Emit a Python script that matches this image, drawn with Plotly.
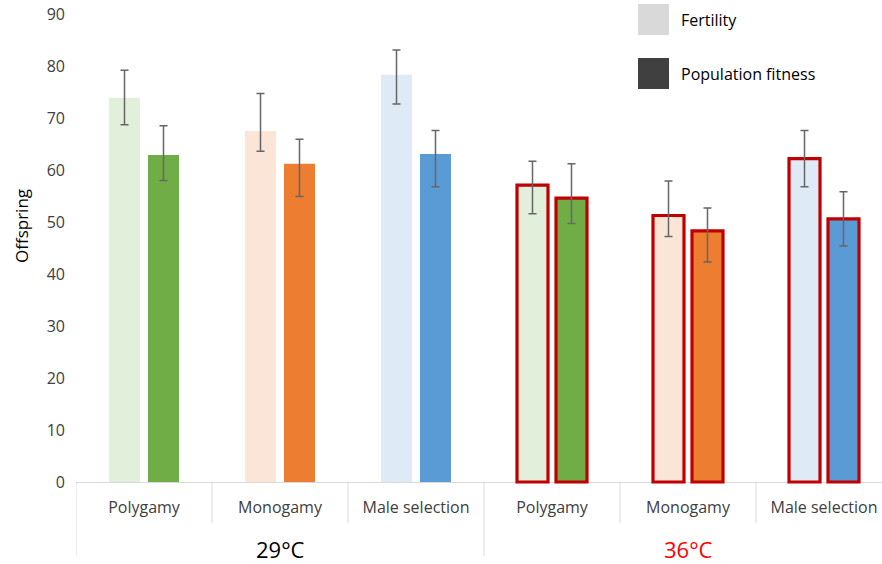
import plotly.graph_objects as go
import numpy as np

# ---------------- data ----------------
categories = ["Polygamy", "Monogamy", "Male selection", "Polygamy", "Monogamy", "Male selection"]
groups = ["29°C", "36°C"]
group_colors = ["#000000", "#FF0000"]

fertility = [73.9, 67.5, 78.3, 57.1, 51.25, 62.2]
fertility_upper = [79.2, 74.7, 83.1, 61.7, 57.9, 67.6]
fertility_lower = [68.7, 63.6, 72.7, 51.6, 47.2, 56.8]

fitness = [62.9, 61.2, 63.1, 54.6, 48.3, 50.6]
fitness_upper = [68.5, 65.9, 67.6, 61.2, 52.7, 55.8]
fitness_lower = [58.0, 54.9, 56.8, 49.7, 42.3, 45.4]

y_ticks = [0, 10, 20, 30, 40, 50, 60, 70, 80, 90]

light_colors = ["#E2EFDA", "#FBE5D6", "#DEEBF7"] * 2
dark_colors = ["#70AD47", "#ED7D31", "#5B9BD5"] * 2
outline_widths = [0, 0, 0, 3.2, 3.2, 3.2]

# ---------------- layout geometry ----------------
W, H = 882, 564
ML, MR, MT, MB = 76, 0, 14, 80
PW, PH = W - ML - MR, H - MT - MB
CAT_PX = 136.0
Y_LOW = -2 / 5.2
Y_HIGH = 90

def px(x):
    return (x - ML) / PW

def py(y):
    return (H - MB - y) / PH

x = np.arange(len(categories))
FONT = "Open Sans"

def errs(vals, up, lo):
    return (np.array(up) - np.array(vals)).tolist(), (np.array(vals) - np.array(lo)).tolist()

fp, fm = errs(fertility, fertility_upper, fertility_lower)
tp, tm = errs(fitness, fitness_upper, fitness_lower)

err_style = dict(type="data", symmetric=False, color="#666666", thickness=1.5, width=4)

fig = go.Figure()
fig.add_trace(go.Bar(
    x=x, y=fertility, name="Fertility", showlegend=False,
    marker=dict(color=light_colors, line=dict(color="#C00000", width=outline_widths)),
    error_y=dict(array=fp, arrayminus=fm, **err_style),
))
fig.add_trace(go.Bar(
    x=x, y=fitness, name="Population fitness", showlegend=False,
    marker=dict(color=dark_colors, line=dict(color="#C00000", width=outline_widths)),
    error_y=dict(array=tp, arrayminus=tm, **err_style),
))

zero_paper = (0 - Y_LOW) / (Y_HIGH - Y_LOW)
shapes = []
# category separators below the axis
n = len(categories)
per_group = n // len(groups)
for i in range(n + 1):
    b = i - 0.5
    long_line = (i % per_group == 0)
    y1 = zero_paper - (74 if long_line else 41) / PH
    shapes.append(dict(type="line", xref="x", yref="paper", x0=b, x1=b,
                       y0=zero_paper, y1=y1, line=dict(color="#D9D9D9", width=1)))

# manual legend
legend_items = [("Fertility", "#D9D9D9", 4), ("Population fitness", "#404040", 58)]
annotations = []
for label, col, top in legend_items:
    shapes.append(dict(type="rect", xref="paper", yref="paper",
                       x0=px(638), x1=px(669), y0=py(top + 31), y1=py(top),
                       fillcolor=col, line=dict(width=0)))
    annotations.append(dict(xref="paper", yref="paper", x=px(679), y=py(top + 16),
                            text=label, showarrow=False, xanchor="left", yanchor="middle",
                            font=dict(family=FONT, size=16, color="#000000")))

# group labels
for gi, (g, c) in enumerate(zip(groups, group_colors)):
    center = gi * per_group + (per_group - 1) / 2
    annotations.append(dict(xref="x", yref="paper", x=center, y=py(549),
                            text=g, showarrow=False, xanchor="center", yanchor="middle",
                            font=dict(family=FONT, size=22, color=c)))

# y-axis title
annotations.append(dict(xref="paper", yref="paper", x=px(21), y=py(226),
                        text="Offspring", textangle=-90, showarrow=False,
                        xanchor="center", yanchor="middle",
                        font=dict(family=FONT, size=17, color="#000000")))

fig.update_layout(
    width=W, height=H,
    margin=dict(l=ML, r=MR, t=MT, b=MB, pad=0),
    paper_bgcolor="white", plot_bgcolor="white",
    barmode="group", bargap=1 - 78 / CAT_PX, bargroupgap=8 / 39,
    shapes=shapes, annotations=annotations,
    font=dict(family=FONT, size=16, color="#404040"),
)
fig.update_xaxes(
    range=[-0.5, -0.5 + PW / CAT_PX],
    tickmode="array", tickvals=x, ticktext=categories,
    showgrid=False, zeroline=False, showline=False, ticks="",
    ticklabelstandoff=12,
    tickfont=dict(family=FONT, size=16, color="#404040"),
)
fig.update_yaxes(
    range=[Y_LOW, Y_HIGH], tickmode="array", tickvals=y_ticks,
    showgrid=False, zeroline=True, zerolinecolor="#D9D9D9", zerolinewidth=1,
    showline=False, ticks="", ticklabelstandoff=10,
    tickfont=dict(family=FONT, size=16, color="#404040"),
)

fig.write_html(
    "out.html",
    config={"displayModeBar": False},
    post_script="document.body.style.margin='0';document.body.style.padding='0';",
)
